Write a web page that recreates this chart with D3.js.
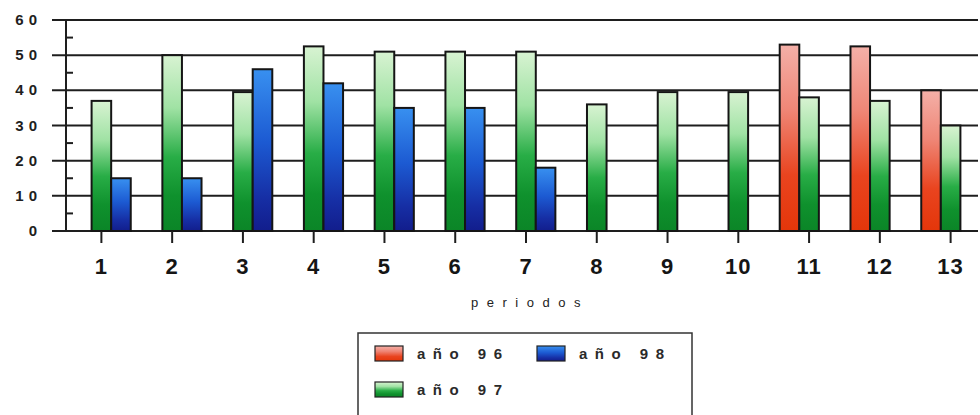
<!DOCTYPE html>
<html>
<head>
<meta charset="utf-8">
<script src="https://cdn.jsdelivr.net/npm/d3@7/dist/d3.min.js"></script>
<style>
  html, body { margin: 0; padding: 0; background: #fff; }
  svg { display: block; font-family: Arial, "Liberation Sans", sans-serif; }
</style>
</head>
<body>
<svg id="chart" width="980" height="415"></svg>
<script>
// Periods on the horizontal axis
const periods = ["1", "2", "3", "4", "5", "6", "7", "8", "9", "10", "11", "12", "13"];
// Series values per period (null = no bar)
const ano96 = [null, null, null, null, null, null, null, null, null, null, 53, 52.5, 40];
const ano97 = [37, 50, 39.5, 52.5, 51, 51, 51, 36, 39.5, 39.5, 38, 37, 30];
const ano98 = [15, 15, 46, 42, 35, 35, 18, null, null, null, null, null, null];
const seriesNames = ["año 96", "año 97", "año 98"];
const yTicks = [0, 10, 20, 30, 40, 50, 60];
const axisTitle = "periodos";

const series = [
  { name: seriesNames[0], key: "r", values: ano96 },
  { name: seriesNames[1], key: "g", values: ano97 },
  { name: seriesNames[2], key: "b", values: ano98 }
];

const svg = d3.select("#chart");

// vertical gradients for the bar fills
const defs = svg.append("defs");
const grads = {
  r: [["0%", "#f4b0a8"], ["35%", "#ef8676"], ["70%", "#e9441f"], ["100%", "#e4360a"]],
  g: [["0%", "#d8f3d2"], ["30%", "#a0e2a4"], ["58%", "#28ad46"], ["80%", "#0f912d"], ["100%", "#0b8527"]],
  b: [["0%", "#3890f0"], ["45%", "#1c5ad2"], ["80%", "#162ea4"], ["100%", "#121d8c"]]
};
Object.entries(grads).forEach(([k, stops]) => {
  const lg = defs.append("linearGradient").attr("id", "grad-" + k)
    .attr("x1", 0).attr("y1", 0).attr("x2", 0).attr("y2", 1);
  stops.forEach(([o, c]) => lg.append("stop").attr("offset", o).attr("stop-color", c));
});

const x0 = d3.scaleBand().domain(periods).range([66, 986])
  .paddingInner(0.17).paddingOuter(0.085);
const x1 = d3.scaleBand().domain(series.map(s => s.key)).range([0, x0.bandwidth()]);
const y = d3.scaleLinear().domain([0, 60]).range([231, 20]);

const axisX = 66, gridLeft = 52, gridRight = 978;

// horizontal gridlines
svg.append("g").selectAll("line").data(yTicks).join("line")
  .attr("x1", gridLeft).attr("x2", gridRight)
  .attr("y1", d => y(d)).attr("y2", d => y(d))
  .attr("stroke", "#1e1e1e").attr("stroke-width", 2);

// minor ticks at the half steps, pointing into the plot
svg.append("g").selectAll("line").data(yTicks.slice(0, -1).map(d => d + 5)).join("line")
  .attr("x1", axisX).attr("x2", axisX + 7)
  .attr("y1", d => y(d)).attr("y2", d => y(d))
  .attr("stroke", "#1e1e1e").attr("stroke-width", 2);

// left axis line
svg.append("line")
  .attr("x1", axisX).attr("x2", axisX).attr("y1", y(60)).attr("y2", y(0))
  .attr("stroke", "#1e1e1e").attr("stroke-width", 2);

// y tick labels
svg.append("g").selectAll("text").data(yTicks).join("text")
  .attr("x", 42).attr("y", d => y(d) + 5)
  .attr("text-anchor", "end")
  .attr("font-size", 15).attr("font-weight", "bold")
  .attr("letter-spacing", 5).attr("fill", "#1e1e1e")
  .text(d => d);

// bars
const groups = svg.append("g").selectAll("g").data(periods).join("g")
  .attr("transform", p => `translate(${x0(p)},0)`);
groups.selectAll("rect")
  .data((p, i) => series.filter(s => s.values[i] != null).map(s => ({ key: s.key, v: s.values[i] })))
  .join("rect")
  .attr("x", d => x1(d.key))
  .attr("y", d => y(d.v))
  .attr("width", x1.bandwidth())
  .attr("height", d => y(0) - y(d.v))
  .attr("fill", d => `url(#grad-${d.key})`)
  .attr("stroke", "#151515").attr("stroke-width", 2);

// x ticks below the baseline
svg.append("g").selectAll("line").data(periods).join("line")
  .attr("x1", p => x0(p) + x0.bandwidth() / 2).attr("x2", p => x0(p) + x0.bandwidth() / 2)
  .attr("y1", y(0)).attr("y2", y(0) + 12)
  .attr("stroke", "#1e1e1e").attr("stroke-width", 2);

// x tick labels
svg.append("g").selectAll("text").data(periods).join("text")
  .attr("x", p => x0(p) + x0.bandwidth() / 2).attr("y", 274)
  .attr("text-anchor", "middle")
  .attr("font-size", 22).attr("font-weight", "bold")
  .attr("letter-spacing", 1).attr("fill", "#151515")
  .text(p => p);

// axis title
svg.append("text")
  .attr("x", 530).attr("y", 307).attr("text-anchor", "middle")
  .attr("font-size", 13).attr("letter-spacing", 8.5).attr("fill", "#222")
  .text(axisTitle);

// legend
const legend = svg.append("g");
legend.append("rect")
  .attr("x", 358).attr("y", 333).attr("width", 334).attr("height", 100)
  .attr("fill", "#fff").attr("stroke", "#333").attr("stroke-width", 1.5);
const legendPos = [
  { key: "r", name: seriesNames[0], x: 375, y: 346 },
  { key: "b", name: seriesNames[2], x: 537, y: 346 },
  { key: "g", name: seriesNames[1], x: 375, y: 382 }
];
const items = legend.selectAll("g.item").data(legendPos).join("g").attr("class", "item")
  .attr("transform", d => `translate(${d.x},${d.y})`);
items.append("rect")
  .attr("width", 28).attr("height", 15)
  .attr("fill", d => `url(#grad-${d.key})`)
  .attr("stroke", "#222").attr("stroke-width", 1.2);
items.append("text")
  .attr("x", 42).attr("y", 13)
  .attr("font-size", 15).attr("font-weight", "bold")
  .attr("letter-spacing", 7.5).attr("fill", "#2a2a2a")
  .text(d => d.name);
</script>
</body>
</html>
